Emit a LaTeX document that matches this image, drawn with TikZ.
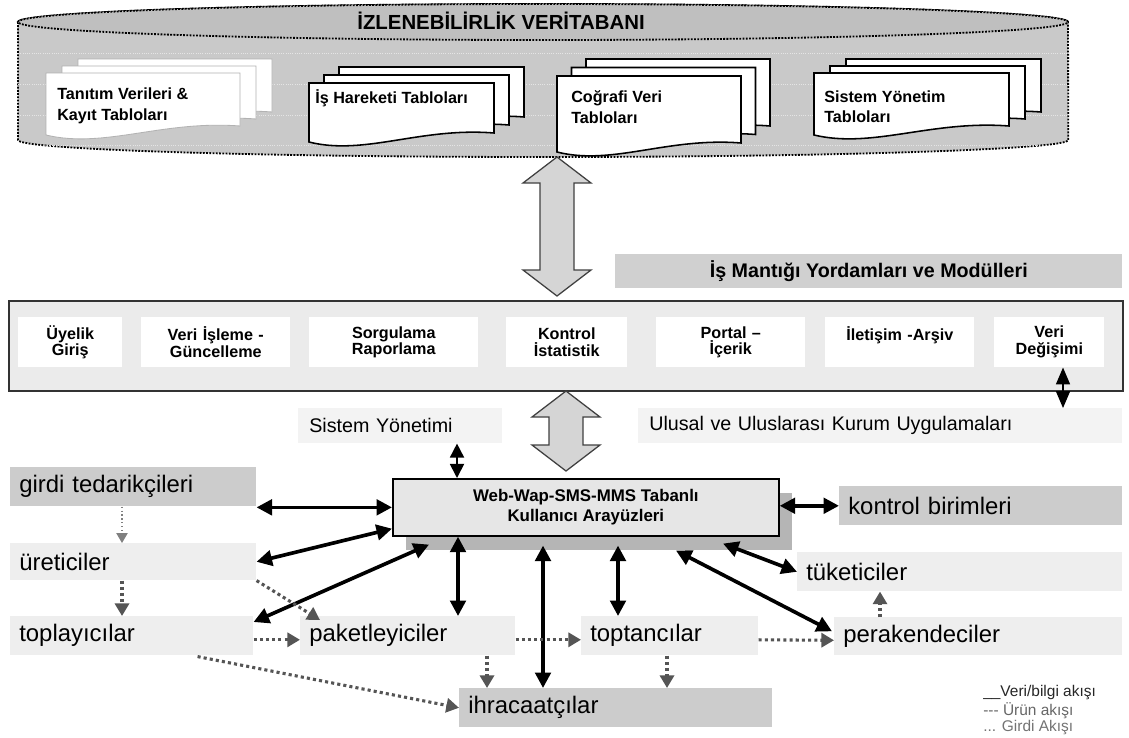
\documentclass[tikz,border=0pt]{standalone}
\usepackage{fontspec}
\setmainfont{Liberation Sans}
\usetikzlibrary{arrows.meta,calc}
\definecolor{dbbody}{HTML}{C9C9C9}
\definecolor{dbtop}{HTML}{BFBFBF}
\definecolor{boxdark}{HTML}{CCCCCC}
\definecolor{boxlight}{HTML}{EEEEEE}
\definecolor{boxpale}{HTML}{F3F3F3}
\definecolor{barfill}{HTML}{D0D0D0}
\definecolor{modfill}{HTML}{EBEBEB}
\definecolor{webfill}{HTML}{E6E6E6}
\definecolor{webshade}{HTML}{B5B5B5}
\definecolor{arrowfill}{HTML}{D5D5D5}
\definecolor{flowgray}{HTML}{555555}
\newlength{\pu}\setlength{\pu}{0.025cm}
\tikzstyle{dbline}=[densely dotted, line width=1.3pt, draw=black]
\tikzstyle{page}=[fill=white, draw=black, line width=1.1pt]
\tikzstyle{palepage}=[fill=white, draw=gray!60, line width=0.6pt]
\tikzstyle{doctext}=[anchor=west, inner sep=0pt, align=left, font=\bfseries\fontsize{11.5}{14.5}\selectfont]
\tikzstyle{blockarrow}=[fill=arrowfill, draw=black!75, line width=0.9pt, line join=miter]
\tikzstyle{darkbox}=[fill=boxdark, anchor=north west, inner ysep=0pt, inner xsep=9\pu, align=left, font=\fontsize{17}{20}\selectfont]
\tikzstyle{lightbox}=[darkbox, fill=boxlight]
\tikzstyle{palebox}=[fill=boxpale, anchor=north west, inner ysep=0pt, inner xsep=11\pu, minimum height=35\pu, align=left, font=\fontsize{14}{16}\selectfont]
\tikzstyle{module}=[fill=white, anchor=north west, inner sep=0pt, minimum height=50\pu, align=center, font=\bfseries\fontsize{11.5}{12}\selectfont]
\tikzstyle{data}=[line width=2.6pt, {Triangle[length=11pt,width=11pt]}-{Triangle[length=11pt,width=11pt]}]
\tikzstyle{smalldata}=[line width=1.2pt, {Triangle[length=10pt,width=10pt]}-{Triangle[length=10pt,width=10pt]}]
\tikzstyle{product}=[line width=2.2pt, draw=flowgray, dash pattern=on 2.2pt off 2.2pt, -{Triangle[length=9pt,width=10pt,fill=flowgray]}]
\tikzstyle{input}=[line width=0.8pt, draw=gray, dotted, -{Triangle[length=7pt,width=8pt,fill=gray]}]
\tikzstyle{legend}=[anchor=west, inner sep=0pt, font=\fontsize{11}{12}\selectfont]
\newcommand{\docpage}[5]{
	\filldraw[#5] ({#1},{#2}) -- ({#1+#3},{#2}) -- ({#1+#3},{#2+#4-9})
		.. controls ({#1+0.6*#3},{#2+#4-15}) and ({#1+0.3*#3},{#2+#4+14}) .. ({#1},{#2+#4}) -- cycle;
}
\newcommand{\docstack}[7]{
	\docpage{#1+2*#5}{#2-2*#6}{#3}{#4}{#7}
	\docpage{#1+#5}{#2-#6}{#3}{#4}{#7}
	\docpage{#1}{#2}{#3}{#4}{#7}
}
\newcommand{\bigarrow}[3]{
	\filldraw[blockarrow] (#1,#2) -- ({#1+34},{#2+26}) -- ({#1+17},{#2+26}) -- ({#1+17},{#3-26})
		-- ({#1+34},{#3-26}) -- (#1,#3) -- ({#1-34},{#3-26}) -- ({#1-17},{#3-26})
		-- ({#1-17},{#2+26}) -- ({#1-34},{#2+26}) -- cycle;
}
\newcommand{\dbbody}{(18,22) -- (18,140) arc[start angle=180, end angle=360, x radius=13.125cm, y radius=0.425cm]
	-- (1068,22) arc[start angle=0, end angle=180, x radius=13.125cm, y radius=0.45cm] -- cycle}
\begin{document}
\begin{tikzpicture}[x=0.025cm, y=-0.025cm]
	\useasboundingbox (0,0) rectangle (1129,737);
%
	\filldraw[dbline, fill=dbbody] \dbbody;
	\begin{scope}
		\clip \dbbody;
		\foreach \ty in {53,84,115,145}
			\draw[white!80!gray, densely dotted, line width=0.6pt] (18,\ty) -- (1068,\ty);
	\end{scope}
	\filldraw[dbline, fill=dbtop] (543,22) ellipse [x radius=13.125cm, y radius=0.45cm];
	\node[font=\bfseries\fontsize{14.5}{16}\selectfont] (dbtitle) at (501,21) {İZLENEBİLİRLİK VERİTABANI};
%
	\docstack{46}{73}{194}{62}{16}{7}{palepage}
	\docstack{309}{83}{185}{59}{15}{8}{page}
	\docstack{557}{76}{184}{76}{14.5}{8.5}{page}
	\docstack{814}{73}{195}{62}{16}{7}{page}
	\node[doctext] (tanitim) at (57,106) {Tanıtım Verileri \&\\ Kayıt Tabloları};
	\node[doctext] (hareket) at (315,98) {İş Hareketi Tabloları};
	\node[doctext] (cografi) at (571,107) {Coğrafi Veri\\Tabloları};
	\node[doctext] (yonetimtab) at (824,107) {Sistem Yönetim\\Tabloları};
%
	\bigarrow{557}{157}{296}
	\node[fill=barfill, anchor=north west, minimum width=507\pu, minimum height=34\pu, font=\bfseries\fontsize{14}{16}\selectfont] (bar) at (615,254) {İş Mantığı Yordamları ve Modülleri};
	\node[fill=modfill, draw=black!80, line width=1.6pt, anchor=north west, minimum width=1114\pu, minimum height=90\pu] (modbox) at (8,300) {};
	\node[module, text width=104\pu] (m1) at (18,317) {Üyelik\\Giriş};
	\node[module, text width=149\pu] (m2) at (141,317) {Veri İşleme -\\Güncelleme};
	\node[module, text width=169\pu] (m3) at (309,317) {Sorgulama\\Raporlama};
	\node[module, text width=121\pu] (m4) at (506,317) {Kontrol\\İstatistik};
	\node[module, text width=149\pu] (m5) at (656,317) {Portal --\\İçerik};
	\node[module, text width=149\pu] (m6) at (825,317) {İletişim -Arşiv\\~};
	\node[module, text width=110\pu] (m7) at (994,317) {Veri\\Değişimi};
%
	\bigarrow{566}{391}{471}
	\node[palebox, text width=182\pu] (sistem) at (298,408) {Sistem Yönetimi};
	\node[palebox, text width=462\pu] (ulusal) at (638,408) {Ulusal ve Uluslarası Kurum Uygulamaları};
	\node[fill=webshade, anchor=north west, minimum width=386\pu, minimum height=57\pu] (webshadow) at (406,493) {};
	\node[fill=webfill, draw=black, line width=1.2pt, anchor=north west, minimum width=386\pu, minimum height=57\pu, align=center, font=\bfseries\fontsize{12}{14.2}\selectfont] (web) at (392,478) {Web-Wap-SMS-MMS Tabanlı\\Kullanıcı Arayüzleri};
%
	\node[darkbox, text width=228\pu, minimum height=39\pu] (girdi) at (10,467) {girdi tedarikçileri};
	\node[lightbox, text width=228\pu, minimum height=37\pu] (ureticiler) at (10,543) {üreticiler};
	\node[lightbox, text width=225\pu, minimum height=39\pu] (toplayicilar) at (10,616) {toplayıcılar};
	\node[lightbox, text width=197\pu, minimum height=39\pu] (paket) at (300,616) {paketleyiciler};
	\node[lightbox, text width=159\pu, minimum height=39\pu] (toptanci) at (581,616) {toptancılar};
	\node[lightbox, text width=270\pu, minimum height=38\pu] (perakende) at (834,617) {perakendeciler};
	\node[lightbox, text width=307\pu, minimum height=39\pu] (tuketici) at (797,552) {tüketiciler};
	\node[darkbox, text width=265\pu, minimum height=39\pu] (kontrol) at (839,486) {kontrol birimleri};
	\node[darkbox, text width=295\pu, minimum height=39\pu] (ihracat) at (459,688) {ihracaatçılar};
%
	\coordinate (xsys) at (457,0);
	\coordinate (xvd) at (1063,0);
	\coordinate (xpak) at (458,0);
	\coordinate (xihr) at (543,0);
	\coordinate (xtop) at (618,0);
	\coordinate (xper) at (676,0);
	\coordinate (xtuk) at (723,0);
	\coordinate (xurt) at (122,0);
	\coordinate (xpkd) at (487,0);
	\coordinate (xtpd) at (667,0);
	\coordinate (xprk) at (880,0);
%
	\draw[smalldata] (sistem.south -| xsys) -- (web.north -| xsys);
	\draw[line width=1pt, {Triangle[length=12pt,width=10pt]}-{Triangle[length=12pt,width=10pt]}] (m7.south -| xvd) -- (ulusal.north -| xvd);
	\draw[data] (girdi.east |- web.west) -- (web.west);
	\draw[data] (ureticiler.east) -- ($(web.south west)+(0,-8)$);
	\draw[data] ($(toplayicilar.north east)+(0,6)$) -- ($(webshadow.south west)+(23,-6)$);
	\draw[data] (web.south -| xpak) -- (paket.north -| xpak);
	\draw[data] ($(webshadow.south -| xihr)+(0,-5)$) -- (ihracat.north -| xihr);
	\draw[data] ($(webshadow.south -| xtop)+(0,-5)$) -- (toptanci.north -| xtop);
	\draw[data] (webshadow.south -| xper) -- ($(perakende.west)+(-2,-5)$);
	\draw[data] ($(webshadow.south -| xtuk)+(0,-7)$) -- (tuketici.west);
	\draw[data] (web.east |- kontrol.west) -- (kontrol.west);
%
	\draw[input] (girdi.south -| xurt) -- (ureticiler.north -| xurt);
	\draw[product] (ureticiler.south -| xurt) -- (toplayicilar.north -| xurt);
	\draw[product] (ureticiler.south east) -- ($(paket.north west)+(20,4)$);
	\draw[product] ($(toplayicilar.east)+(0,4)$) -- ($(paket.west)+(0,4)$);
	\draw[product] ($(paket.east)+(0,4)$) -- ($(toptanci.west)+(0,4)$);
	\draw[product] ($(toptanci.east)+(0,4)$) -- ($(perakende.west)+(0,4)$);
	\draw[product] ($(toplayicilar.south east)+(-56,1)$) -- (ihracat.west);
	\draw[product] (paket.south -| xpkd) -- (ihracat.north -| xpkd);
	\draw[product] (toptanci.south -| xtpd) -- (ihracat.north -| xtpd);
	\draw[product] (perakende.north -| xprk) -- (tuketici.south -| xprk);
%
	\node[legend, text=black!85] (legdata) at (983,693) {\_\_Veri/bilgi akışı};
	\node[legend, text=black!60] (legproduct) at (983,711) {-{}-{}- Ürün akışı};
	\node[legend, text=black!55] (leginput) at (983,728) {... Girdi Akışı};
\end{tikzpicture}
\end{document}
